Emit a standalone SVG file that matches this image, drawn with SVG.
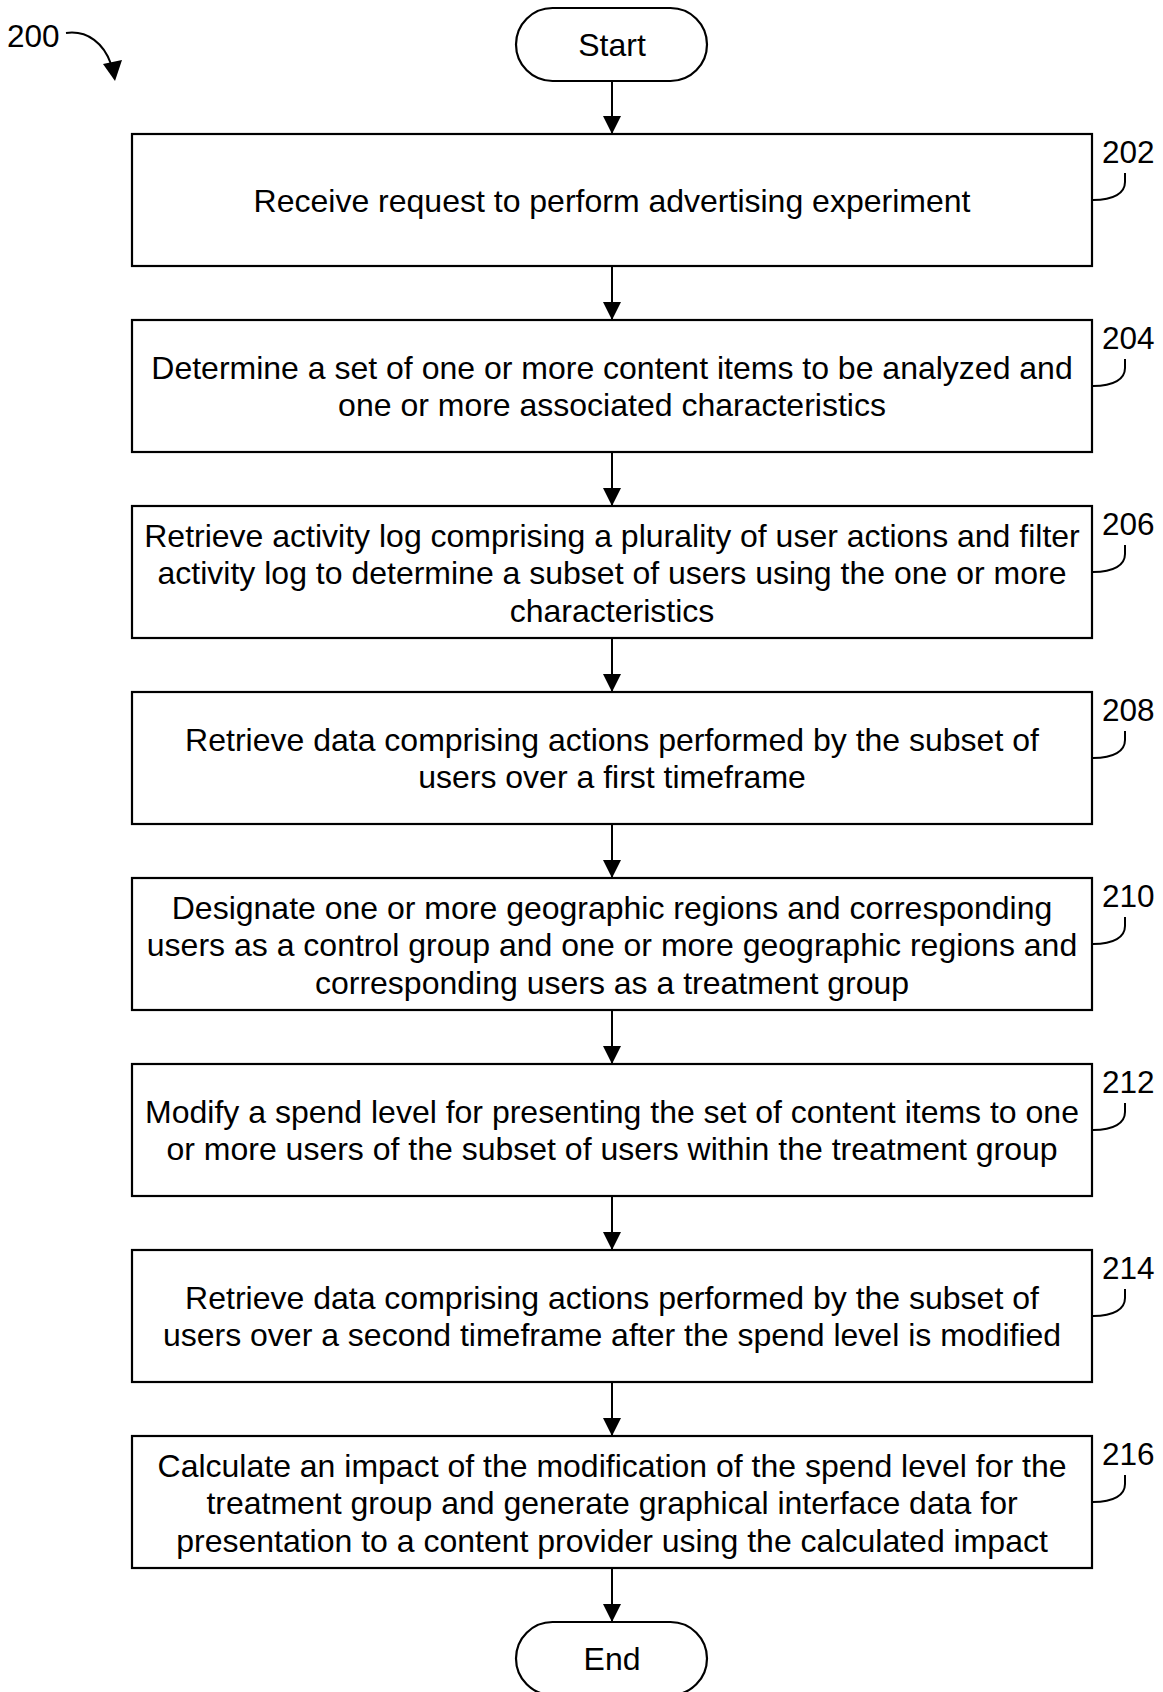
<svg xmlns="http://www.w3.org/2000/svg" width="1163" height="1692" viewBox="0 0 1163 1692">
  <style>
    .box { fill: #ffffff; stroke: #000000; stroke-width: 2.2; }
    .txt { font-family: "Liberation Sans", Arial, sans-serif; font-size: 32px; fill: #000000; text-anchor: middle; }
    .ref { font-family: "Liberation Sans", Arial, sans-serif; font-size: 31.5px; fill: #000000; }
    .conn { stroke: #000000; stroke-width: 2; fill: none; }
    .curl { stroke: #000000; stroke-width: 2; fill: none; }
  </style>
  <defs>
    <marker id="arrow" markerUnits="userSpaceOnUse" markerWidth="18" markerHeight="18" refX="17" refY="9" orient="auto">
      <path d="M0,0 L18,9 L0,18 z" fill="#000000"/>
    </marker>
  </defs>

  <rect width="1163" height="1692" fill="#ffffff"/>

  <!-- figure reference -->
  <g id="fig-ref">
    <text class="ref" x="7" y="47">200</text>
    <path class="curl" d="M66,33 C88,30 104,44 111,64"/>
    <polygon points="103,64 122,60 115,81" fill="#000000"/>
  </g>

  <!-- connectors -->
  <g id="connectors">
    <line class="conn" x1="612" y1="81" x2="612" y2="133" marker-end="url(#arrow)"/>
    <line class="conn" x1="612" y1="266" x2="612" y2="319" marker-end="url(#arrow)"/>
    <line class="conn" x1="612" y1="452" x2="612" y2="505" marker-end="url(#arrow)"/>
    <line class="conn" x1="612" y1="638" x2="612" y2="691" marker-end="url(#arrow)"/>
    <line class="conn" x1="612" y1="824" x2="612" y2="877" marker-end="url(#arrow)"/>
    <line class="conn" x1="612" y1="1010" x2="612" y2="1063" marker-end="url(#arrow)"/>
    <line class="conn" x1="612" y1="1196" x2="612" y2="1249" marker-end="url(#arrow)"/>
    <line class="conn" x1="612" y1="1382" x2="612" y2="1435" marker-end="url(#arrow)"/>
    <line class="conn" x1="612" y1="1568" x2="612" y2="1621" marker-end="url(#arrow)"/>
  </g>

  <g id="start">
    <rect class="box" x="516" y="8" width="191" height="73" rx="36.5" ry="36.5"/>
    <text class="txt" x="612" y="56">Start</text>
  </g>

  <g id="step-202">
    <rect class="box" x="132" y="134" width="960" height="132"/>
    <text class="txt" x="612" y="211.5">Receive request to perform advertising experiment</text>
    <text class="ref" x="1102" y="163">202</text>
    <path class="curl" d="M1093,200 C1114,200 1125,193 1125,182 L1125,173"/>
  </g>

  <g id="step-204">
    <rect class="box" x="132" y="320" width="960" height="132"/>
    <text class="txt" x="612" y="378.5">Determine a set of one or more content items to be analyzed and</text>
    <text class="txt" x="612" y="416">one or more associated characteristics</text>
    <text class="ref" x="1102" y="349">204</text>
    <path class="curl" d="M1093,386 C1114,386 1125,379 1125,368 L1125,359"/>
  </g>

  <g id="step-206">
    <rect class="box" x="132" y="506" width="960" height="132"/>
    <text class="txt" x="612" y="546.5">Retrieve activity log comprising a plurality of user actions and filter</text>
    <text class="txt" x="612" y="584">activity log to determine a subset of users using the one or more</text>
    <text class="txt" x="612" y="621.5">characteristics</text>
    <text class="ref" x="1102" y="535">206</text>
    <path class="curl" d="M1093,572 C1114,572 1125,565 1125,554 L1125,545"/>
  </g>

  <g id="step-208">
    <rect class="box" x="132" y="692" width="960" height="132"/>
    <text class="txt" x="612" y="750.5">Retrieve data comprising actions performed by the subset of</text>
    <text class="txt" x="612" y="788">users over a first timeframe</text>
    <text class="ref" x="1102" y="721">208</text>
    <path class="curl" d="M1093,758 C1114,758 1125,751 1125,740 L1125,731"/>
  </g>

  <g id="step-210">
    <rect class="box" x="132" y="878" width="960" height="132"/>
    <text class="txt" x="612" y="918.5">Designate one or more geographic regions and corresponding</text>
    <text class="txt" x="612" y="956">users as a control group and one or more geographic regions and</text>
    <text class="txt" x="612" y="993.5">corresponding users as a treatment group</text>
    <text class="ref" x="1102" y="907">210</text>
    <path class="curl" d="M1093,944 C1114,944 1125,937 1125,926 L1125,917"/>
  </g>

  <g id="step-212">
    <rect class="box" x="132" y="1064" width="960" height="132"/>
    <text class="txt" x="612" y="1122.5">Modify a spend level for presenting the set of content items to one</text>
    <text class="txt" x="612" y="1160">or more users of the subset of users within the treatment group</text>
    <text class="ref" x="1102" y="1093">212</text>
    <path class="curl" d="M1093,1130 C1114,1130 1125,1123 1125,1112 L1125,1103"/>
  </g>

  <g id="step-214">
    <rect class="box" x="132" y="1250" width="960" height="132"/>
    <text class="txt" x="612" y="1308.5">Retrieve data comprising actions performed by the subset of</text>
    <text class="txt" x="612" y="1346">users over a second timeframe after the spend level is modified</text>
    <text class="ref" x="1102" y="1279">214</text>
    <path class="curl" d="M1093,1316 C1114,1316 1125,1309 1125,1298 L1125,1289"/>
  </g>

  <g id="step-216">
    <rect class="box" x="132" y="1436" width="960" height="132"/>
    <text class="txt" x="612" y="1476.5">Calculate an impact of the modification of the spend level for the</text>
    <text class="txt" x="612" y="1514">treatment group and generate graphical interface data for</text>
    <text class="txt" x="612" y="1551.5">presentation to a content provider using the calculated impact</text>
    <text class="ref" x="1102" y="1465">216</text>
    <path class="curl" d="M1093,1502 C1114,1502 1125,1495 1125,1484 L1125,1475"/>
  </g>

  <g id="end">
    <rect class="box" x="516" y="1622" width="191" height="73" rx="36.5" ry="36.5"/>
    <text class="txt" x="612" y="1670">End</text>
  </g>
</svg>
